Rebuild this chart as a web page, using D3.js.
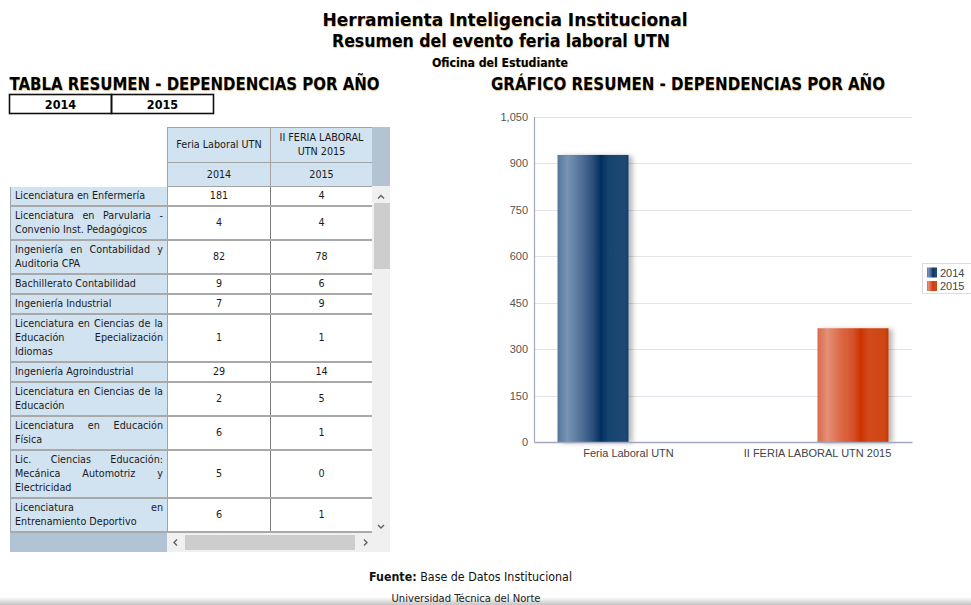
<!DOCTYPE html>
<html>
<head>
<meta charset="utf-8">
<script src="https://cdn.jsdelivr.net/npm/d3@7"></script>
<style>
  body { margin: 0; background: #fff; }
  #page {
    position: relative;
    width: 971px;
    height: 605px;
    overflow: hidden;
    font-family: "DejaVu Sans Condensed", "DejaVu Sans", sans-serif;
  }
  .table-wrap {
    position: absolute;
    left: 10px;
    top: 127px;
    width: 362px;
    height: 406px;
    overflow: hidden;
  }
  .table-wrap table {
    border-collapse: collapse;
    table-layout: fixed;
    width: 362px;
    font-size: 10.7px;
    line-height: 14px;
    color: #1a1a1a;
  }
  .table-wrap th.col-head {
    background: #d1e2f1;
    border: 1px solid #a3a3a3;
    font-weight: normal;
    text-align: center;
    padding: 2px 3px;
  }
  .table-wrap th.corner { background: #fff; border: none; }
  .table-wrap th.row-head {
    background: #d1e2f1;
    font-weight: normal;
    text-align: justify;
    padding: 2px 4px 2px 4px;
    border-left: 1px solid #a3a3a3;
    border-right: 1px solid #a3a3a3;
    border-bottom: 2px solid #a9a9a9;
  }
  .table-wrap td {
    text-align: center;
    vertical-align: middle;
    padding: 2px 3px 2px 3px;
    border-right: 1px solid #7a7a7a;
    border-bottom: 2px solid #a9a9a9;
  }
  .overlay { position: absolute; left: 0; top: 0; }
</style>
</head>
<body>
<div id="page"></div>
<script>
const departments = [
  "Licenciatura en Enfermería",
  "Licenciatura en Parvularia - Convenio Inst. Pedagógicos",
  "Ingeniería en Contabilidad y Auditoria CPA",
  "Bachillerato Contabilidad",
  "Ingeniería Industrial",
  "Licenciatura en Ciencias de la Educación Epecialización Idiomas",
  "Ingeniería Agroindustrial",
  "Licenciatura en Ciencias de la Educación",
  "Licenciatura en Educación Física",
  "Lic. Ciencias Educación: Mecánica Automotriz y Electricidad",
  "Licenciatura en Entrenamiento Deportivo"
];
const attendees2014 = [181, 4, 82, 9, 7, 1, 29, 2, 6, 5, 6];
const attendees2015 = [4, 4, 78, 6, 9, 1, 14, 5, 1, 0, 1];

const events = ["Feria Laboral UTN", "II FERIA LABORAL UTN 2015"];
const years = ["2014", "2015"];
const totals2014 = [926, 0];
const totals2015 = [0, 367];
const yTicks = [0, 150, 300, 450, 600, 750, 900, 1050];

const WIDTH = 971;
const HEIGHT = 605;

const page = d3.select("#page");

// ---- table (html) ----
const table = page.append("div").attr("class", "table-wrap").append("table");
const colgroup = table.append("colgroup");
[157, 103, 102].forEach((w) => colgroup.append("col").style("width", `${w}px`));

const thead = table.append("thead");
const headRow1 = thead.append("tr").style("height", "35px");
headRow1.append("th").attr("class", "corner").attr("rowspan", 2);
events.forEach((name) => headRow1.append("th").attr("class", "col-head").text(name));
const headRow2 = thead.append("tr").style("height", "24px");
years.forEach((yr) => headRow2.append("th").attr("class", "col-head").text(yr));

const rows = departments.map((name, i) => ({
  name,
  v2014: attendees2014[i],
  v2015: attendees2015[i]
}));

const bodyRows = table.append("tbody")
  .selectAll("tr")
  .data(rows)
  .join("tr");
bodyRows.append("th").attr("class", "row-head").text((d) => d.name);
bodyRows.append("td").text((d) => d.v2014);
bodyRows.append("td").text((d) => d.v2015);

// ---- everything else (svg on top) ----
const svg = page.append("svg")
  .attr("class", "overlay")
  .attr("width", WIDTH)
  .attr("height", HEIGHT);

const defs = svg.append("defs");

function addGradient(id, stops) {
  const g = defs.append("linearGradient")
    .attr("id", id)
    .attr("x1", "0%").attr("x2", "100%")
    .attr("y1", "0%").attr("y2", "0%");
  g.selectAll("stop")
    .data(stops)
    .join("stop")
    .attr("offset", (d) => d[0])
    .attr("stop-color", (d) => d[1]);
}

addGradient("grad-2014", [
  ["0%", "#55779c"], ["14%", "#7793b2"], ["32%", "#54739a"],
  ["50%", "#2a4e7b"], ["61%", "#002e5f"], ["72%", "#17446f"],
  ["95%", "#1d4874"], ["100%", "#163d66"]
]);
addGradient("grad-2015", [
  ["0%", "#d76a4a"], ["14%", "#e49076"], ["32%", "#dc6a48"],
  ["50%", "#d4522b"], ["61%", "#cc3300"], ["72%", "#d24a1a"],
  ["95%", "#cf4517"], ["100%", "#b73609"]
]);

const shadow = defs.append("filter")
  .attr("id", "bar-shadow")
  .attr("x", "-10%").attr("y", "-5%")
  .attr("width", "130%").attr("height", "110%");
shadow.append("feDropShadow")
  .attr("dx", 4).attr("dy", 1)
  .attr("stdDeviation", 2.5)
  .attr("flood-color", "#000")
  .attr("flood-opacity", 0.28);

// bottom page shadow (drawn first so the footer text sits over it)
const fade = defs.append("linearGradient")
  .attr("id", "bottom-fade")
  .attr("x1", 0).attr("x2", 0).attr("y1", 0).attr("y2", 1);
fade.append("stop").attr("offset", "0%").attr("stop-color", "#fff");
fade.append("stop").attr("offset", "100%").attr("stop-color", "#c4c4c4");
svg.append("rect")
  .attr("x", 0).attr("y", 597)
  .attr("width", WIDTH).attr("height", 8)
  .attr("fill", "url(#bottom-fade)");

// titles
const titleFont = "'DejaVu Sans Condensed', 'DejaVu Sans', sans-serif";
const headings = [
  { text: "Herramienta Inteligencia Institucional", x: 505, y: 26, size: 18.5, len: 365 },
  { text: "Resumen del evento feria laboral UTN", x: 501, y: 47, size: 17, len: 338 },
  { text: "Oficina del Estudiante", x: 500, y: 66.5, size: 11.5, len: 136 },
  { text: "TABLA RESUMEN - DEPENDENCIAS POR AÑO", x: 194.5, y: 90, size: 17, len: 370 },
  { text: "GRÁFICO RESUMEN - DEPENDENCIAS POR AÑO", x: 688, y: 90, size: 17, len: 394 }
];

svg.append("g")
  .selectAll("text")
  .data(headings)
  .join("text")
  .attr("x", (d) => d.x)
  .attr("y", (d) => d.y)
  .attr("text-anchor", "middle")
  .attr("font-family", titleFont)
  .attr("font-weight", "bold")
  .attr("font-size", (d) => d.size)
  .attr("textLength", (d) => d.len)
  .attr("lengthAdjust", "spacingAndGlyphs")
  .attr("fill", "#000")
  .style("text-shadow", "0.5px 0.5px 1px rgba(190,140,60,0.55)")
  .text((d) => d.text);

// year selector boxes
const yearBox = svg.append("g");
const yearX = d3.scaleBand().domain(years).range([9.5, 213.5]);
yearBox.selectAll("rect")
  .data(years)
  .join("rect")
  .attr("x", (d) => yearX(d))
  .attr("y", 94.5)
  .attr("width", yearX.bandwidth())
  .attr("height", 19)
  .attr("fill", "none")
  .attr("stroke", "#111")
  .attr("stroke-width", 1.6);
yearBox.selectAll("text")
  .data(years)
  .join("text")
  .attr("x", (d) => yearX(d) + yearX.bandwidth() / 2)
  .attr("y", 109)
  .attr("text-anchor", "middle")
  .attr("font-family", titleFont)
  .attr("font-weight", "bold")
  .attr("font-size", 12.5)
  .text((d) => d);

// table scrollbars
const scroll = svg.append("g");
scroll.append("rect").attr("x", 372).attr("y", 127).attr("width", 18).attr("height", 59).attr("fill", "#b4c3d2");
scroll.append("rect").attr("x", 372).attr("y", 186).attr("width", 18).attr("height", 347).attr("fill", "#f0f0f0");
scroll.append("rect").attr("x", 374).attr("y", 203).attr("width", 16).attr("height", 66).attr("fill", "#cdcdcd");
scroll.append("rect").attr("x", 10).attr("y", 533).attr("width", 157).attr("height", 19).attr("fill", "#b1c4d6");
scroll.append("rect").attr("x", 167).attr("y", 533).attr("width", 223).attr("height", 19).attr("fill", "#f0f0f0");
scroll.append("rect").attr("x", 185).attr("y", 535).attr("width", 170).attr("height", 15).attr("fill", "#cdcdcd");

const chevrons = [
  "M378,198.5 L381,195.5 L384,198.5",
  "M378,525 L381,528 L384,525",
  "M177,539.5 L174,542.5 L177,545.5",
  "M364,539.5 L367,542.5 L364,545.5"
];
scroll.selectAll("path")
  .data(chevrons)
  .join("path")
  .attr("d", (d) => d)
  .attr("fill", "none")
  .attr("stroke", "#606060")
  .attr("stroke-width", 1.4);

// ---- bar chart ----
const plotLeft = 534;
const plotRight = 912;
const chartFont = "'Liberation Sans', Arial, sans-serif";

const x0 = d3.scaleBand().domain(events).range([plotLeft, plotRight]);
const barWidth = 71;
const x1 = d3.scaleBand()
  .domain(years)
  .range([x0.bandwidth() / 2 - barWidth, x0.bandwidth() / 2 + barWidth]);
const y = d3.scaleLinear().domain([0, 1050]).range([442, 116.5]);

const chart = svg.append("g").attr("class", "chart");

chart.append("g")
  .selectAll("line")
  .data(yTicks.filter((t) => t > 0))
  .join("line")
  .attr("x1", plotLeft)
  .attr("x2", plotRight)
  .attr("y1", (d) => Math.round(y(d)) + 0.5)
  .attr("y2", (d) => Math.round(y(d)) + 0.5)
  .attr("stroke", "#e2e2ea");

const yAxis = chart.append("g")
  .attr("transform", `translate(${plotLeft},0)`)
  .call(
    d3.axisLeft(y)
      .tickValues(yTicks)
      .tickSize(0)
      .tickPadding(6)
      .tickFormat(d3.format(","))
  );
yAxis.select(".domain").attr("stroke", "#a3a7bf").attr("stroke-width", 1.2);
yAxis.selectAll("text")
  .attr("font-family", chartFont)
  .attr("font-size", 11)
  .attr("fill", "#555");

const barData = events.flatMap((ev, i) => [
  { event: ev, year: "2014", value: totals2014[i] },
  { event: ev, year: "2015", value: totals2015[i] }
]).filter((d) => d.value > 0);

chart.append("g")
  .selectAll("rect")
  .data(barData)
  .join("rect")
  .attr("x", (d) => x0(d.event) + x1(d.year))
  .attr("y", (d) => y(d.value))
  .attr("width", x1.bandwidth())
  .attr("height", (d) => y(0) - y(d.value))
  .attr("fill", (d) => `url(#grad-${d.year})`)
  .attr("filter", "url(#bar-shadow)");

const xAxis = chart.append("g")
  .attr("transform", `translate(0,${y(0)})`)
  .call(d3.axisBottom(x0).tickSize(0).tickPadding(7));
xAxis.select(".domain").attr("stroke", "#a3a7bf").attr("stroke-width", 1.5);
xAxis.selectAll("text")
  .attr("font-family", chartFont)
  .attr("font-size", 11)
  .attr("fill", "#444");

// legend
const legend = svg.append("g").attr("transform", "translate(922.5,263.5)");
legend.append("rect")
  .attr("width", 60)
  .attr("height", 30)
  .attr("fill", "#fff")
  .attr("stroke", "#dcdce6");
const legendItem = legend.selectAll(".item")
  .data(years)
  .join("g")
  .attr("class", "item")
  .attr("transform", (d, i) => `translate(4.5,${4 + i * 13.5})`);
legendItem.append("rect")
  .attr("width", 10)
  .attr("height", 10)
  .attr("fill", (d) => `url(#grad-${d})`);
legendItem.append("text")
  .attr("x", 13)
  .attr("y", 9)
  .attr("font-family", chartFont)
  .attr("font-size", 11)
  .attr("fill", "#444")
  .text((d) => d);

// footer
const footer = svg.append("text")
  .attr("x", 369)
  .attr("y", 581)
  .attr("font-family", titleFont)
  .attr("font-size", 12)
  .attr("textLength", 203)
  .attr("lengthAdjust", "spacingAndGlyphs")
  .attr("fill", "#111");
footer.append("tspan").attr("font-weight", "bold").text("Fuente:");
footer.append("tspan").text(" Base de Datos Institucional");

svg.append("text")
  .attr("x", 466)
  .attr("y", 601.5)
  .attr("text-anchor", "middle")
  .attr("font-family", titleFont)
  .attr("font-size", 11)
  .attr("textLength", 149)
  .attr("lengthAdjust", "spacingAndGlyphs")
  .attr("fill", "#222")
  .text("Universidad Técnica del Norte");
</script>
</body>
</html>
